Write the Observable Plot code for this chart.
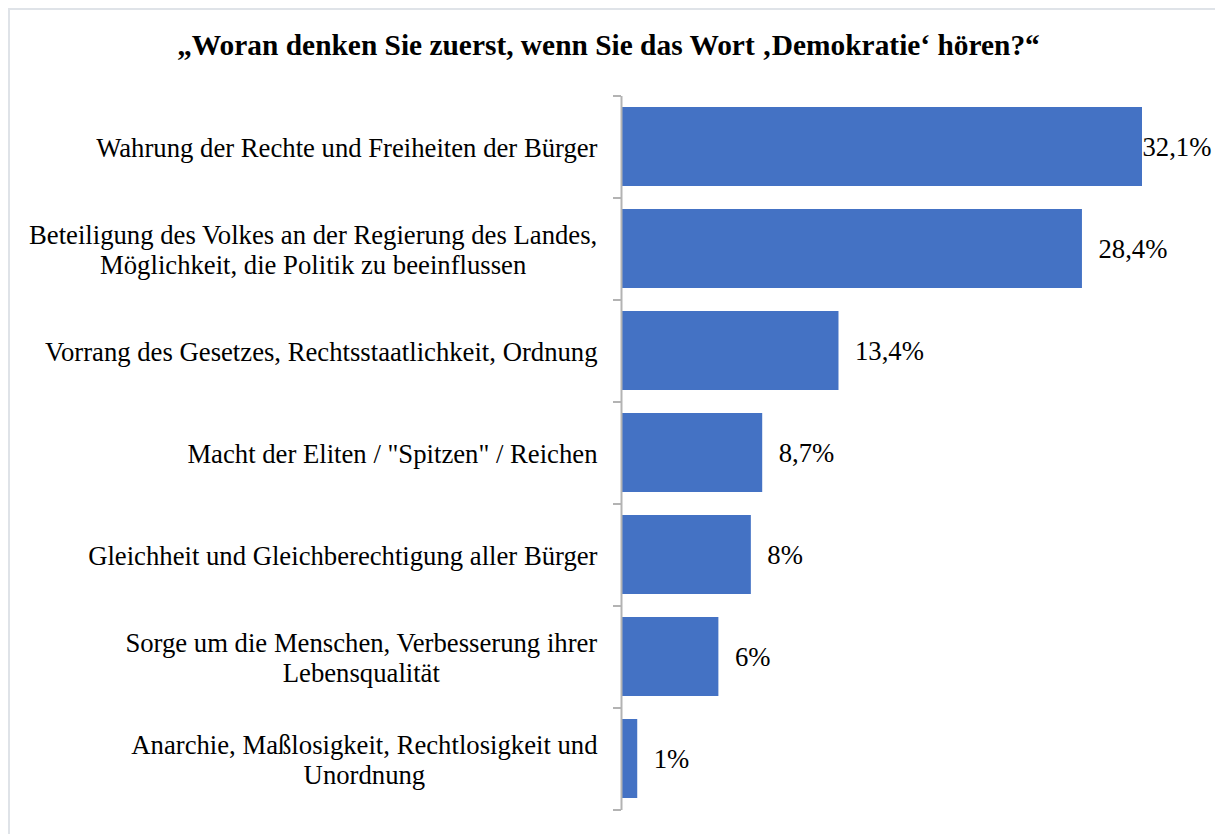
<!DOCTYPE html>
<html>
<head>
<meta charset="utf-8">
<script src="https://cdn.jsdelivr.net/npm/d3@7"></script>
<script src="https://cdn.jsdelivr.net/npm/@observablehq/plot@0.6"></script>
<style>
  html, body { margin: 0; padding: 0; background: #fff; overflow: hidden; }
  #frame { position: absolute; left: 8px; top: 8px; width: 1400px; height: 1000px;
           border-left: 2px solid #dfe3e8; border-top: 2px solid #dfe3e8; box-sizing: border-box; }
  #title { position: absolute; left: 0; top: 29px; width: 1217px; text-align: center;
           font-family: "Liberation Serif", "Times New Roman", Tinos, serif;
           font-weight: bold; font-size: 29.4px; line-height: 32px; color: #000; white-space: nowrap; }
  #chart { position: absolute; left: 0; top: 80px; font-family: "Liberation Serif", "Times New Roman", Tinos, serif; }
</style>
</head>
<body>
<div id="frame"></div>
<div id="title" style="font-family:'Liberation Serif'">„Woran denken Sie zuerst, wenn Sie das Wort ‚Demokratie‘ hören?“</div>
<div id="chart"></div>
<script>
const categories = [
  "Wahrung der Rechte und Freiheiten der Bürger",
  "Beteiligung des Volkes an der Regierung des Landes,\nMöglichkeit, die Politik zu beeinflussen",
  "Vorrang des Gesetzes, Rechtsstaatlichkeit, Ordnung",
  "Macht der Eliten / \"Spitzen\" / Reichen",
  "Gleichheit und Gleichberechtigung aller Bürger",
  "Sorge um die Menschen, Verbesserung ihrer\nLebensqualität",
  "Anarchie, Maßlosigkeit, Rechtlosigkeit und\nUnordnung"
];
const values = [32.1, 28.4, 13.4, 8.7, 8, 6, 1];
const valueLabels = ["32,1%", "28,4%", "13,4%", "8,7%", "8%", "6%", "1%"];

const data = categories.map((c, i) => ({category: c, value: values[i], label: valueLabels[i], i}));

const W = 1215, H = 754, mt = 16, mb = 24, ml = 621, mr = 73;
const step = (H - mt - mb) / categories.length;
const FONT = "Liberation Serif";
const FS = 26.7;
const axisColor = "#b3b3b3";

const ctx = document.createElement("canvas").getContext("2d");
ctx.font = `${FS}px 'Liberation Serif'`;
const textWidth = s => Math.max(...s.split("\n").map(l => ctx.measureText(l).width));

const labelMarks = categories.map(c => Plot.text([c], {
  x: () => 0, y: d => d, text: d => d,
  textAnchor: "middle", lineAnchor: "middle", lineHeight: 30 / FS,
  dx: -(24 + textWidth(c) / 2),
  fontSize: FS, fontFamily: FONT, fill: "#000"
}));

const chart = Plot.plot({
  width: W, height: H,
  marginTop: mt, marginBottom: mb, marginLeft: ml, marginRight: mr,
  style: {background: "transparent", fontFamily: FONT},
  x: {domain: [0, d3.max(values)], axis: null},
  y: {domain: categories, paddingInner: 0.225, paddingOuter: 0.1125, label: null},
  marks: [
    Plot.barX(data, {x: "value", y: "category", fill: "#4472C4"}),
    Plot.axisY({tickSize: 8, tickFormat: () => "", dy: -step / 2, stroke: axisColor, strokeWidth: 2, label: null}),
    Plot.axisY([categories[categories.length - 1]], {tickSize: 8, tickFormat: () => "", dy: step / 2, stroke: axisColor, strokeWidth: 2, label: null}),
    Plot.ruleX([0], {stroke: axisColor, strokeWidth: 2}),
    ...labelMarks,
    Plot.text(data.filter(d => d.i === 0), {x: "value", y: "category", text: "label", textAnchor: "start", dx: 0, fontSize: FS, fontFamily: FONT, fill: "#000"}),
    Plot.text(data.filter(d => d.i !== 0), {x: "value", y: "category", text: "label", textAnchor: "start", dx: 16, fontSize: FS, fontFamily: FONT, fill: "#000"})
  ]
});
chart.style.fontFamily = FONT;
document.getElementById("chart").appendChild(chart);
</script>
</body>
</html>
